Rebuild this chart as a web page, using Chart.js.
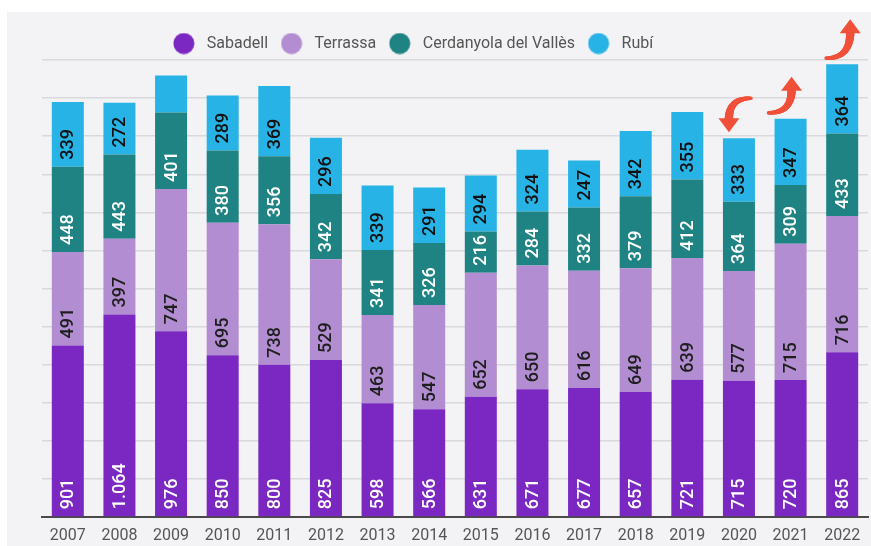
<!DOCTYPE html>
<html>
<head>
<meta charset="utf-8">
<script src="https://cdn.jsdelivr.net/npm/chart.js@4"></script>
<style>
  body { margin: 0; background: #fff; }
  #wrap { position: absolute; left: 7px; top: 12px; width: 864px; height: 534px; background: #f3f2f5; }
</style>
</head>
<body>
<div id="wrap"><canvas id="myChart"></canvas></div>
<script>
var years = ['2007', '2008', '2009', '2010', '2011', '2012', '2013', '2014', '2015', '2016', '2017', '2018', '2019', '2020', '2021', '2022'];
var sabadell = [901, 1064, 976, 850, 800, 825, 598, 566, 631, 671, 677, 657, 721, 715, 720, 865];
var terrassa = [491, 397, 747, 695, 738, 529, 463, 547, 652, 650, 616, 649, 639, 577, 715, 716];
var cerdanyola = [448, 443, 401, 380, 356, 342, 341, 326, 216, 284, 332, 379, 412, 364, 309, 433];
var rubi = [339, 272, 195, 289, 369, 296, 339, 291, 294, 324, 247, 342, 355, 333, 347, 364];

var colors = ['#7b27c1', '#b38dd1', '#1f8383', '#27b3e6'];
var labelColors = ['#ffffff', '#1e1e1e', '#ffffff', '#111111'];

function fmt(v) {
    return String(v).replace(/\B(?=(\d{3})+(?!\d))/g, '.');
}

function dot(color) {
    var c = document.createElement('canvas');
    c.width = 22; c.height = 22;
    var g = c.getContext('2d');
    g.fillStyle = color;
    g.beginPath();
    g.arc(11, 11, 10.5, 0, Math.PI * 2);
    g.fill();
    return c;
}
var dots = colors.map(dot);

var barLabels = {
    id: 'barLabels',
    afterDatasetsDraw: function (chart) {
        var ctx = chart.ctx;
        chart.data.datasets.forEach(function (ds, i) {
            var meta = chart.getDatasetMeta(i);
            meta.data.forEach(function (bar, j) {
                var text = fmt(ds.data[j]);
                ctx.save();
                ctx.font = '500 18px Roboto';
                var w = ctx.measureText(text).width;
                if (w + 10 > bar.base - bar.y) { ctx.restore(); return; }
                ctx.translate(bar.x, bar.base - 7);
                ctx.rotate(-Math.PI / 2);
                ctx.textAlign = 'left';
                ctx.textBaseline = 'middle';
                ctx.fillStyle = labelColors[i];
                ctx.fillText(text, 0, 1);
                ctx.restore();
            });
        });
    }
};

// curved red arrows over the last three bars
var arrows = {
    id: 'arrows',
    afterDatasetsDraw: function (chart) {
        var ctx = chart.ctx;
        var meta = chart.getDatasetMeta(3);
        var marks = [
            [13, 12, -40, -10, -6],
            [14, -22, -6, 1, -42],
            [15, -16, -6, 8, -45]
        ];
        marks.forEach(function (m) {
            var bar = meta.data[m[0]];
            var x0 = bar.x + m[1], y0 = bar.y + m[2];
            var x1 = bar.x + m[3], y1 = bar.y + m[4];
            var cx = x1, cy = y0;
            var dir = y1 < cy ? 1 : -1;
            var hy = y1 + dir * 13;
            ctx.save();
            ctx.strokeStyle = '#f0503a';
            ctx.fillStyle = '#f0503a';
            ctx.lineCap = 'round';
            var n = 24, px = x0, py = y0;
            for (var k = 1; k <= n; k++) {
                var t = k / n;
                var qx = (1 - t) * (1 - t) * x0 + 2 * (1 - t) * t * cx + t * t * x1;
                var qy = (1 - t) * (1 - t) * y0 + 2 * (1 - t) * t * cy + t * t * hy;
                ctx.lineWidth = 3.5 + 5 * t;
                ctx.beginPath();
                ctx.moveTo(px, py);
                ctx.lineTo(qx, qy);
                ctx.stroke();
                px = qx; py = qy;
            }
            ctx.beginPath();
            ctx.moveTo(x1, y1);
            ctx.lineTo(x1 - 10.5, hy + dir * 1);
            ctx.lineTo(x1 + 10.5, hy + dir * 1);
            ctx.closePath();
            ctx.fill();
            ctx.restore();
        });
    }
};

var legendFit = {
    id: 'legendFit',
    beforeInit: function (chart) {
        var fit = chart.legend.fit;
        chart.legend.fit = function () {
            fit.bind(chart.legend)();
            this.height = 33;
        };
    },
    afterLayout: function (chart) {
        chart.legend.right -= 88;
    }
};

var ctx = document.getElementById('myChart').getContext('2d');
var myChart = new Chart(ctx, {
    type: 'bar',
    data: {
        labels: years,
        datasets: [
            { label: 'Sabadell', data: sabadell, backgroundColor: colors[0] },
            { label: 'Terrassa', data: terrassa, backgroundColor: colors[1] },
            { label: 'Cerdanyola del Vallès', data: cerdanyola, backgroundColor: colors[2] },
            { label: 'Rubí', data: rubi, backgroundColor: colors[3] }
        ]
    },
    options: {
        maintainAspectRatio: false,
        responsive: true,
        animation: false,
        datasets: { bar: { categoryPercentage: 1, barPercentage: 0.62 } },
        layout: { padding: { left: 35, right: 3, top: 15, bottom: 0 } },
        plugins: {
            tooltip: { enabled: false },
            legend: {
                position: 'top',
                labels: {
                    usePointStyle: true,
                    pointStyleWidth: 30,
                    padding: 8.5,
                    color: '#555555',
                    font: { family: 'Roboto', size: 16 },
                    generateLabels: function (chart) {
                        var items = Chart.defaults.plugins.legend.labels.generateLabels(chart);
                        items.forEach(function (it, k) { it.pointStyle = dots[k]; });
                        return items;
                    }
                }
            }
        },
        scales: {
            x: {
                stacked: true,
                grid: { display: false },
                border: { color: '#4a4a4a', width: 2 },
                ticks: { color: '#555555', font: { family: 'Roboto', size: 16 }, padding: 1 },
                afterFit: function (s) { s.height = 29; }
            },
            y: {
                stacked: true,
                min: 0,
                max: 2400,
                ticks: { display: false, stepSize: 200 },
                grid: { color: '#d9d8dc', lineWidth: 1.5, drawTicks: false },
                border: { display: false },
                afterFit: function (s) { s.width = 0; }
            }
        }
    },
    plugins: [barLabels, arrows, legendFit]
});
</script>
</body>
</html>
